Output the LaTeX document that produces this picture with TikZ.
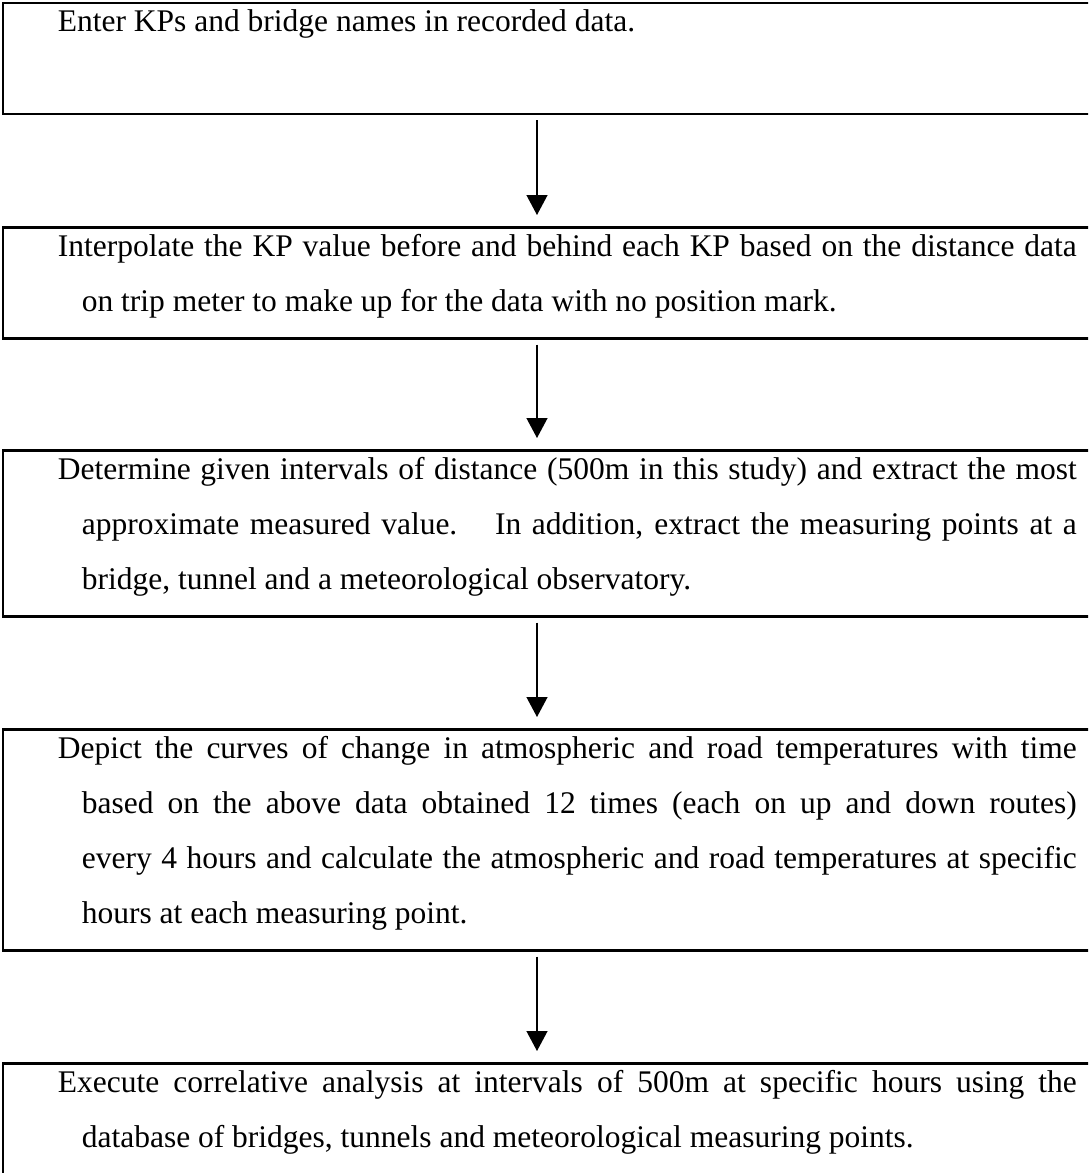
\documentclass[tikz,border=0pt]{standalone}
\usepackage{fontspec}
\setmainfont{Liberation Serif}
\usetikzlibrary{arrows.meta,calc}

\newcommand{\upstrut}{\rule{0pt}{29pt}}
\newcommand{\downstrut}{\rule[-27pt]{0pt}{27pt}}
\newcommand{\hang}{\hangindent=24pt\hangafter=1\relax}

\tikzset{
  stepbox/.style={draw, line width=2.6pt, anchor=north west, text width=1019pt,
    align=justify, inner xsep=55pt, inner ysep=0pt, font=\fontsize{31.5}{55}\selectfont},
  steparrow/.style={line width=1.3pt, -{Triangle[length=20pt,width=21pt]},
    shorten <=5pt, shorten >=11pt}
}

\begin{document}
\begin{tikzpicture}[x=1pt,y=-1pt]
  \clip (0,0) rectangle (1088,1173);
  \coordinate (ax) at (537,0);

  \node[stepbox] (b1) at (1.5,1.5) {\upstrut Enter KPs and bridge names in recorded data.\par\downstrut};
  \node[stepbox] (b2) at (1.5,226) {\upstrut\hang
    Interpolate the KP value before and behind each KP based on the distance data\linebreak
    on trip meter to make up for the data with no position mark.\downstrut\par};
  \node[stepbox] (b3) at (1.5,449) {\upstrut\hang
    Determine given intervals of distance (500m in this study) and extract the most\linebreak
    approximate measured value.\hspace{0.6em} In addition, extract the measuring points at a\linebreak
    bridge, tunnel and a meteorological observatory.\downstrut\par};
  \node[stepbox] (b4) at (1.5,728) {\upstrut\hang
    Depict the curves of change in atmospheric and road temperatures with time\linebreak
    based on the above data obtained 12 times (each on up and down routes)\linebreak
    every 4 hours and calculate the atmospheric and road temperatures at specific\linebreak
    hours at each measuring point.\downstrut\par};
  \node[stepbox] (b5) at (1.5,1062) {\upstrut\hang
    Execute correlative analysis at intervals of 500m at specific hours using the\linebreak
    database of bridges, tunnels and meteorological measuring points.\downstrut\par};

  \draw[steparrow] (b1.south -| ax) -- (b2.north -| ax);
  \draw[steparrow] (b2.south -| ax) -- (b3.north -| ax);
  \draw[steparrow] (b3.south -| ax) -- (b4.north -| ax);
  \draw[steparrow] (b4.south -| ax) -- (b5.north -| ax);
\end{tikzpicture}
\end{document}
